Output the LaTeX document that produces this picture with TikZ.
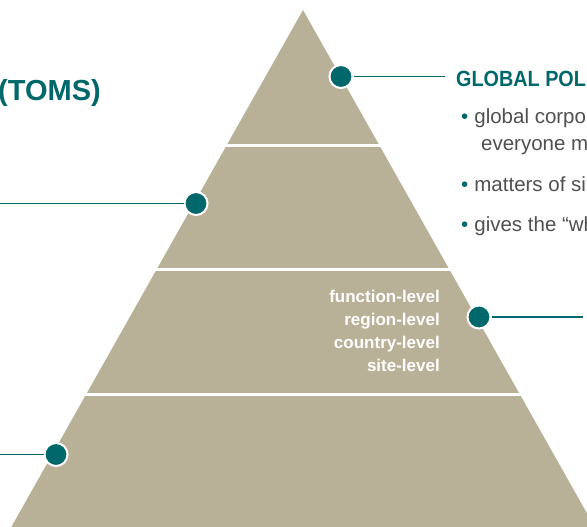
\documentclass[tikz,border=0pt]{standalone}
\usepackage{fontspec}
\setmainfont{Liberation Sans}
\newfontfamily\headfont[FakeStretch=0.9]{Liberation Sans}
\definecolor{tealc}{HTML}{00686B}
\definecolor{sand}{HTML}{B9B197}
\definecolor{bodytext}{HTML}{505050}
\begin{document}
\begin{tikzpicture}[x=1pt,y=-1pt,
  marker/.style={circle,fill=tealc,draw=white,line width=2pt,minimum size=23pt,inner sep=0pt},
  link/.style={draw=tealc,line width=1.4pt},
  gap/.style={draw=white,line width=3pt},
  title/.style={font=\headfont\bfseries\fontsize{22}{26}\selectfont,text=tealc,inner sep=0pt},
  item/.style={font=\fontsize{20.5}{24}\selectfont,text=bodytext,inner sep=0pt,anchor=base west},
  tier/.style={font=\bfseries\fontsize{17}{23}\selectfont,text=white,inner sep=0pt,anchor=base east}
]
\useasboundingbox (0,0) rectangle (587,527);
\clip (0,0) rectangle (587,527);
% pyramid
\coordinate (apex) at (303,10);
\coordinate (bl) at (11.3,527);
\coordinate (br) at (594.7,527);
\fill[sand] (apex) -- (br) -- (bl) -- cycle;
% white gaps between the tiers
\draw[gap] (0,145) -- (587,145);
\draw[gap] (0,269) -- (587,269);
\draw[gap] (0,394) -- (587,394);
% markers and their leader lines
\node[marker] (m1) at (341,76.5) {};
\node[marker] (m2) at (196,203.5) {};
\node[marker] (m3) at (479,317) {};
\node[marker] (m4) at (56,454.5) {};
\coordinate (e1) at (445,76.5);
\coordinate (e2) at (0,203.5);
\coordinate (e3) at (583,317);
\coordinate (e4) at (0,454.5);
\draw[link] (m1) -- (e1);
\draw[link] (m2) -- (e2);
\draw[link] (m3) -- (e3);
\draw[link] (m4) -- (e4);
% headings
\node[title,font=\bfseries\fontsize{29}{32}\selectfont,anchor=base east] (toms) at (101,100) {(TOMS)};
\node[title,anchor=base west] (gp) at (456,87) {GLOBAL POL};
% bullet list
\node[item] (i1) at (461,124) {\textcolor{tealc}{\textbullet}\hspace{6pt}global corpo};
\node[item] (i1b) at (481,150) {everyone mu};
\node[item] (i2) at (461,191.5) {\textcolor{tealc}{\textbullet}\hspace{6pt}matters of si};
\node[item] (i3) at (461,231.5) {\textcolor{tealc}{\textbullet}\hspace{6pt}gives the “wh};
% tier labels
\node[tier] (t1) at (440,302) {function-level};
\node[tier] (t2) at (440,325) {region-level};
\node[tier] (t3) at (440,348) {country-level};
\node[tier] (t4) at (440,371) {site-level};
\end{tikzpicture}
\end{document}
